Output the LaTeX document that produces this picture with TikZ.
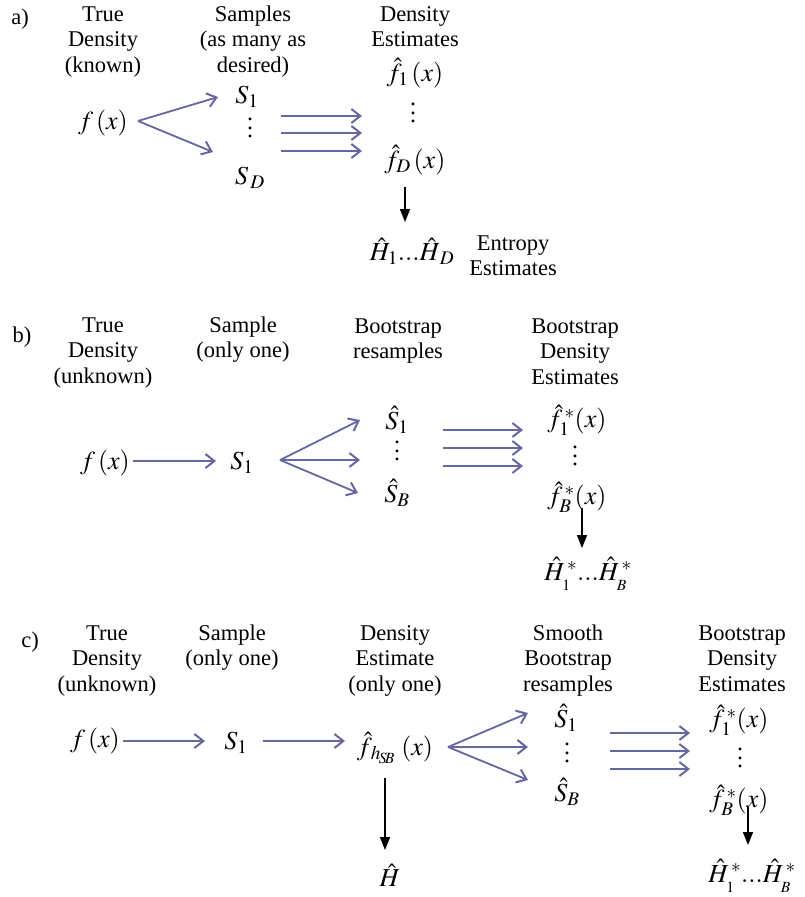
\documentclass[tikz,border=0pt]{standalone}
\usepackage{mathptmx}
\usepackage{fontspec}
\setmainfont{Liberation Serif}
\usetikzlibrary{arrows.meta}
\definecolor{blu}{RGB}{102,102,160}
\newcommand{\lowsub}[1]{\lower4pt\hbox{$\scriptscriptstyle #1$}}
\tikzset{
  tx/.style={font=\fontsize{22.5}{25.5}\selectfont, align=center, anchor=base, inner sep=0pt},
  mth/.style={font=\fontsize{26}{30}\selectfont, inner sep=0pt},
  vdts/.style={font=\fontsize{24}{8.5}\selectfont, align=center, inner sep=0pt},
  barrow/.style={draw=blu, line width=1.8pt, -{Straight Barb[length=9pt,width=14pt,line width=2pt]}},
  karrow/.style={draw=black, line width=1.5pt, -{Triangle[length=13pt,width=10pt]}}
}
\begin{document}
\begin{tikzpicture}[x=1pt,y=-1pt]
\useasboundingbox (0,0) rectangle (804,897);
% ---------- panel a ----------
\node[tx] (la) at (20,24) {a)};
\node[tx] (ta1) at (103,72) {True\\Density\\(known)};
\node[tx] (ta2) at (253,72) {Samples\\(as many as\\desired)};
\node[tx] (ta3) at (415,46.5) {Density\\Estimates};
\node[mth] (fa) at (103,123) {$f\,(x)$};
\node[mth] (s1a) at (247,97) {$S_1$};
\node[vdts] (dta) at (250,128) {.\\.\\.};
\node[mth] (sda) at (250,178) {$S_{\,D}$};
\node[mth] (f1a) at (415,73) {$\hat{f}_1\,(x)$};
\node[vdts] (fdta) at (413,113) {.\\.\\.};
\node[mth] (fDa) at (415,160) {$\hat{f}_D\,(x)$};
\node[mth] (Ha) at (412,251) {$\hat{H}_1 ... \hat{H}_{\,D}$};
\node[tx] (ent) at (513,275.5) {Entropy\\Estimates};
\draw[barrow] ([shift={(35,-2)}]fa.center) -- ([shift={(-29,0)}]s1a.center);
\draw[barrow] ([shift={(35,-2)}]fa.center) -- ([shift={(-37,-26)}]sda.center);
\draw[barrow] ([shift={(31,-12)}]dta.center) -- ([shift={(-51,3)}]fdta.center);
\draw[barrow] ([shift={(31,5)}]dta.center) -- ([shift={(-51,20)}]fdta.center);
\draw[barrow] ([shift={(31,23)}]dta.center) -- ([shift={(-51,38)}]fdta.center);
\draw[karrow] ([shift={(-10,27)}]fDa.center) -- ([shift={(-7,-29)}]Ha.center);
% ---------- panel b ----------
\node[tx] (lb) at (22,342) {b)};
\node[tx] (tb1) at (103,383) {True\\Density\\(unknown)};
\node[tx] (tb2) at (243,357.5) {Sample\\(only one)};
\node[tx] (tb3) at (398,358.5) {Bootstrap\\resamples};
\node[tx] (tb4) at (575,384) {Bootstrap\\Density\\Estimates};
\node[mth] (fb) at (105,463) {$f\,(x)$};
\node[mth] (s1b) at (242,463) {$S_1$};
\node[mth] (ss1b) at (397,420) {$\hat{S}_1$};
\node[vdts] (dtb) at (397,451) {.\\.\\.};
\node[mth] (ssBb) at (397,493) {$\hat{S}_B$};
\node[mth] (f1b) at (577,420) {$\hat{f}_1^{\,*}(x)$};
\node[vdts] (fdtb) at (575,456) {.\\.\\.};
\node[mth] (fBb) at (577,497) {$\hat{f}_B^{\,*}(x)$};
\node[mth] (Hb) at (588,574) {$\hat{H}^{\,*}_{\lowsub{1}}...\hat{H}^{\,*}_{\lowsub{B}}$};
\draw[barrow] ([shift={(28,-2)}]fb.center) -- ([shift={(-26,-2)}]s1b.center);
\draw[barrow] ([shift={(38,-3)}]s1b.center) -- ([shift={(-37,0)}]ss1b.center);
\draw[barrow] ([shift={(38,-3)}]s1b.center) -- ([shift={(-37,9)}]dtb.center);
\draw[barrow] ([shift={(38,-3)}]s1b.center) -- ([shift={(-39,0)}]ssBb.center);
\draw[barrow] ([shift={(46,-21)}]dtb.center) -- ([shift={(-52,-26)}]fdtb.center);
\draw[barrow] ([shift={(46,-3)}]dtb.center) -- ([shift={(-52,-8)}]fdtb.center);
\draw[barrow] ([shift={(46,15)}]dtb.center) -- ([shift={(-52,10)}]fdtb.center);
\draw[karrow] ([shift={(5,11)}]fBb.center) -- ([shift={(-6,-26)}]Hb.center);
% ---------- panel c ----------
\node[tx] (lc) at (30,647) {c)};
\node[tx] (tc1) at (107,691) {True\\Density\\(unknown)};
\node[tx] (tc2) at (232,665.5) {Sample\\(only one)};
\node[tx] (tc3) at (395,691) {Density\\Estimate\\(only one)};
\node[tx] (tc4) at (568,691) {Smooth\\Bootstrap\\resamples};
\node[tx] (tc5) at (742,691) {Bootstrap\\Density\\Estimates};
\node[mth] (fc) at (95,741) {$f\,(x)$};
\node[mth] (s1c) at (236,743) {$S_1$};
\node[mth] (fh) at (395,748) {$\hat{f}_{\,h_{\!S\!B}}\;(x)$};
\node[mth] (Hh) at (390,875) {$\hat{H}$};
\node[mth] (ss1c) at (566,718) {$\hat{S}_1$};
\node[vdts] (dtc) at (567,753) {.\\.\\.};
\node[mth] (ssBc) at (567,792) {$\hat{S}_B$};
\node[mth] (f1c) at (739,720) {$\hat{f}_1^{\,*}(x)$};
\node[vdts] (fdtc) at (740,758) {.\\.\\.};
\node[mth] (fBc) at (739,800) {$\hat{f}_B^{\,*}(x)$};
\node[mth] (Hc) at (752,876) {$\hat{H}^{\,*}_{\lowsub{1}}...\hat{H}^{\,*}_{\lowsub{B}}$};
\draw[barrow] ([shift={(28,0)}]fc.center) -- ([shift={(-31,-2)}]s1c.center);
\draw[barrow] ([shift={(27,-2)}]s1c.center) -- ([shift={(-50,-7)}]fh.center);
\draw[barrow] ([shift={(53,-1)}]fh.center) -- ([shift={(-38,-5)}]ss1c.center);
\draw[barrow] ([shift={(53,-1)}]fh.center) -- ([shift={(-39,-6)}]dtc.center);
\draw[barrow] ([shift={(53,-1)}]fh.center) -- ([shift={(-39,-12)}]ssBc.center);
\draw[barrow] ([shift={(43,-20)}]dtc.center) -- ([shift={(-50,-25)}]fdtc.center);
\draw[barrow] ([shift={(43,-2)}]dtc.center) -- ([shift={(-50,-7)}]fdtc.center);
\draw[barrow] ([shift={(43,16)}]dtc.center) -- ([shift={(-50,11)}]fdtc.center);
\draw[karrow] ([shift={(-10,30)}]fh.center) -- ([shift={(-5,-25)}]Hh.center);
\draw[karrow] ([shift={(9,7)}]fBc.center) -- ([shift={(-4,-31)}]Hc.center);
\end{tikzpicture}
\end{document}
